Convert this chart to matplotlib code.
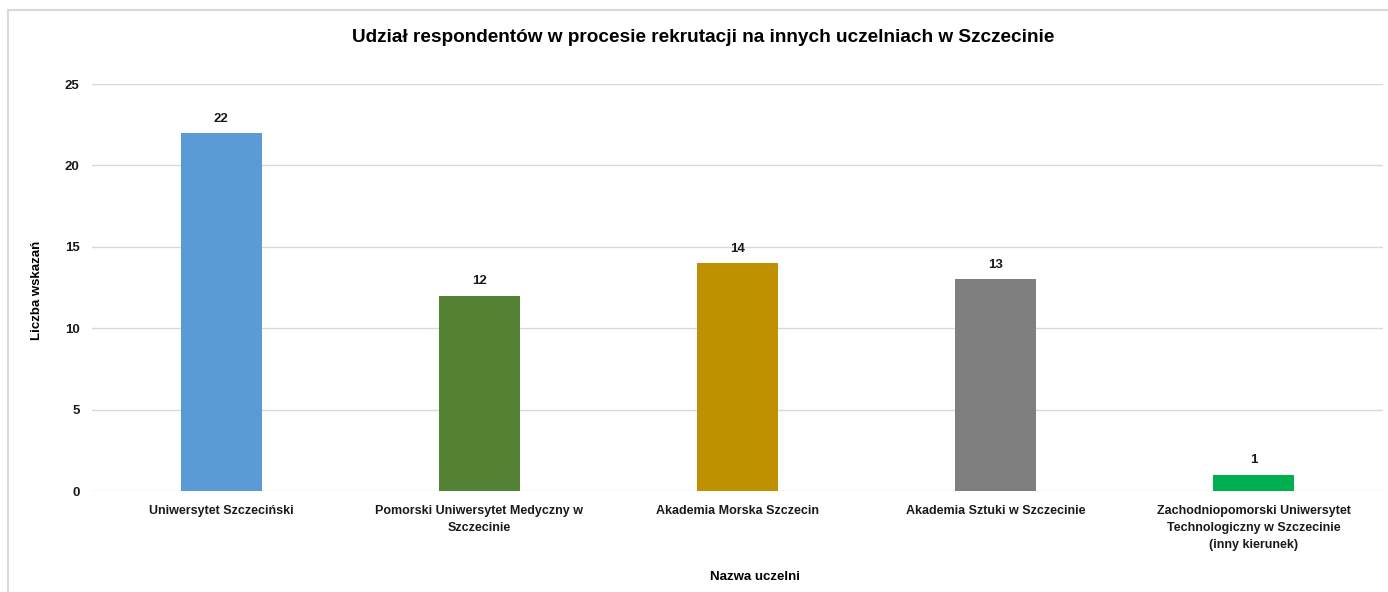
import matplotlib.pyplot as plt
from matplotlib.patches import Rectangle
import numpy as np

# dane
uczelnie = ['Uniwersytet Szczeciński',
            'Pomorski Uniwersytet Medyczny w\nSzczecinie',
            'Akademia Morska Szczecin',
            'Akademia Sztuki w Szczecinie',
            'Zachodniopomorski Uniwersytet\nTechnologiczny w Szczecinie\n(inny kierunek)']
wskazania = [22, 12, 14, 13, 1]
kolory = ['#5B9BD5', '#548235', '#BF9000', '#7F7F7F', '#00B050']
y_ticks = [0, 5, 10, 15, 20, 25]

plt.rcParams['font.family'] = ['Liberation Sans', 'DejaVu Sans']

fig = plt.figure(figsize=(13.88, 5.92), dpi=100)
ax = fig.add_axes([0.0663, 0.1706, 0.930, 0.6875])

# ramka wykresu
fig.patches.append(Rectangle((8 / 1388, -0.05), 1.2, 1.05 - 10 / 592, transform=fig.transFigure,
                             fill=False, edgecolor='#D9D9D9', linewidth=1.5, zorder=0))

x = np.arange(len(uczelnie))
bars = ax.bar(x, wskazania, width=0.314, color=kolory, zorder=3)

for b, v in zip(bars, wskazania):
    ax.annotate(str(v), (b.get_x() + b.get_width() / 2, v), xytext=(0, 6),
                textcoords='offset points', ha='center', va='bottom',
                fontsize=9.5, fontweight='bold', color='#1a1a1a')

ax.set_xlim(-0.5, len(uczelnie) - 0.5)
ax.set_ylim(0, 25)
ax.set_yticks(y_ticks)
ax.set_xticks(x)
ax.set_xticklabels(uczelnie, fontsize=9, fontweight='bold', color='#1a1a1a', linespacing=1.55)
for lab in ax.get_yticklabels():
    lab.set_fontsize(9.5)
    lab.set_fontweight('bold')
    lab.set_color('#1a1a1a')
ax.tick_params(axis='both', length=0)
ax.tick_params(axis='y', pad=9)
ax.tick_params(axis='x', pad=10)
ax.grid(axis='y', color='#D9D9D9', linewidth=1, zorder=0)
for s in ax.spines.values():
    s.set_visible(False)

fig.text(37 / 1388, 1 - 290 / 592, 'Liczba wskazań', rotation=90, ha='center', va='center',
         fontsize=9.5, fontweight='bold')
fig.text(755 / 1388, 1 - 577 / 592, 'Nazwa uczelni', ha='center', va='center',
         fontsize=9.5, fontweight='bold')
fig.text(703 / 1388, 1 - 37 / 592,
         'Udział respondentów w procesie rekrutacji na innych uczelniach w Szczecinie',
         ha='center', va='center', fontsize=13.7, fontweight='bold')

fig.savefig('out.png', dpi=100, facecolor='white')
